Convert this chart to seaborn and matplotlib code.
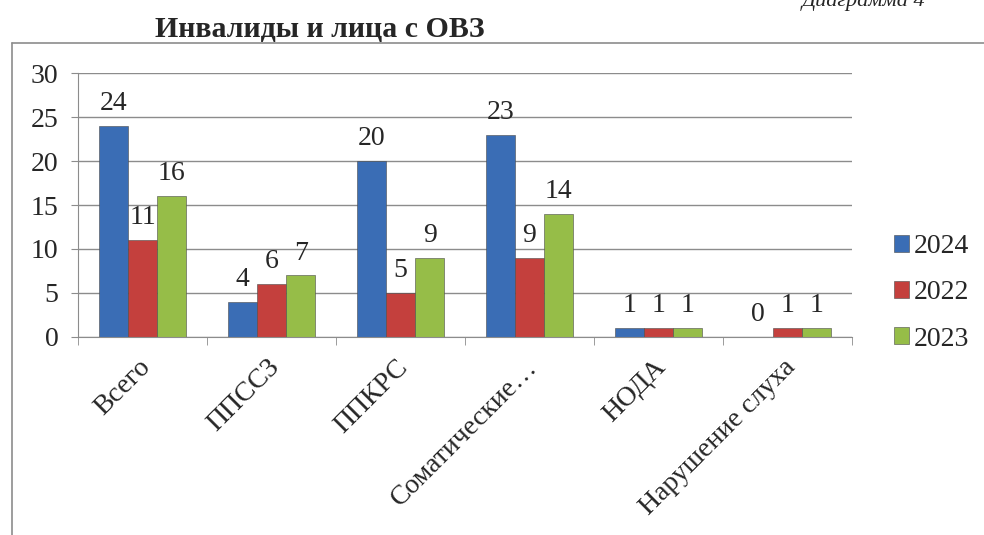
import pandas as pd
import seaborn as sns
import matplotlib.pyplot as plt
from matplotlib.lines import Line2D
from matplotlib.ticker import FixedLocator
from matplotlib.transforms import ScaledTranslation

categories = ["Всего", "ППССЗ", "ППКРС", "Соматические…", "НОДА", "Нарушение слуха"]
years = ["2024", "2022", "2023"]
v2024 = [24, 4, 20, 23, 1, 0]
v2022 = [11, 6, 5, 9, 1, 1]
v2023 = [16, 7, 9, 14, 1, 1]
colors = ["#3a6db5", "#c4403d", "#96bd48"]

data = pd.DataFrame({
    "cat": categories * 3,
    "year": [y for y in years for _ in categories],
    "value": v2024 + v2022 + v2023,
})

sns.set_style("white")
plt.rcParams["font.family"] = ["Liberation Serif", "DejaVu Serif"]

fig = plt.figure(figsize=(9.84, 5.35), dpi=100)
ax = fig.add_axes([78 / 984, 1 - 337 / 535, 774 / 984, 264 / 535])

sns.barplot(data=data, x="cat", y="value", hue="year", hue_order=years,
            palette=colors, width=0.68, saturation=1, ax=ax,
            edgecolor="#4a4a4a", linewidth=0.4)

for cont in ax.containers:
    ax.bar_label(cont, padding=7, fontsize=20)

ax.set_ylim(0, 30)
ax.set_xlim(-0.5, 5.5)
ax.set_yticks(range(0, 31, 5))
ax.yaxis.grid(True, color="#8c8c8c", linewidth=1)
ax.set_axisbelow(True)
ax.set_xlabel("")
ax.set_ylabel("")
for s in ["top", "right"]:
    ax.spines[s].set_visible(False)
ax.spines["left"].set_color("#8c8c8c")
ax.spines["bottom"].set_color("#8c8c8c")
ax.tick_params(axis="y", labelsize=20, length=5, color="#8c8c8c", left=True, pad=9)
ax.tick_params(axis="x", which="major", length=0, labelsize=20, pad=14)
ax.xaxis.set_minor_locator(FixedLocator([i - 0.5 for i in range(7)]))
ax.tick_params(axis="x", which="minor", length=6, color="#8c8c8c", bottom=True)
shift = ScaledTranslation(4 / 100, -7 / 100, fig.dpi_scale_trans)
for lab in ax.get_xticklabels():
    lab.set_rotation(45)
    lab.set_ha("right")
    lab.set_va("center")
    lab.set_rotation_mode("anchor")
    lab.set_transform(lab.get_transform() + shift)

leg = ax.legend(loc="center left", bbox_to_anchor=(1.04, 0.167), frameon=False,
                fontsize=20, handlelength=0.55, handleheight=0.55,
                handletextpad=0.15, labelspacing=0.76, borderaxespad=0)

fig.text(320 / 984, 1 - 30 / 535, "Инвалиды и лица с ОВЗ", fontsize=21.5,
         fontweight="bold", ha="center", va="center")
# page caption, cut by the top edge as in the source scan
fig.text(925 / 984, 1 - 6 / 535, "Диаграмма 4", fontsize=16, style="italic",
         ha="right", va="baseline")

fig.add_artist(Line2D([12 / 984, 12 / 984], [0, 1 - 43 / 535],
                      transform=fig.transFigure, color="#8c8c8c", linewidth=1.2))
fig.add_artist(Line2D([12 / 984, 1], [1 - 43 / 535, 1 - 43 / 535],
                      transform=fig.transFigure, color="#8c8c8c", linewidth=1.2))

fig.savefig("out.png", dpi=100)
